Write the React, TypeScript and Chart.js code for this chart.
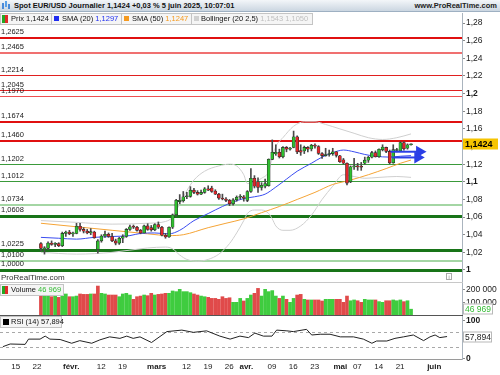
import React, { useEffect, useRef } from "react";
import { Chart, registerables } from "chart.js";
Chart.register(...registerables);

const FONT = '"Liberation Sans", Arial, sans-serif';

// ---- Daily candles (Jan 10 2025 .. Jun 5 2025), index = trading day ----
const opens = [
  1.03, 1.024, 1.0245, 1.0305, 1.029, 1.03, 1.0275, 1.0415, 1.043, 1.041,
  1.0415, 1.0495, 1.046, 1.044, 1.042, 1.043, 1.0235, 1.033, 1.0385, 1.0405,
  1.038, 1.033, 1.0305, 1.036, 1.038, 1.046, 1.049, 1.0485, 1.045, 1.042,
  1.05, 1.048, 1.0455, 1.0515, 1.0485, 1.0395, 1.0375, 1.0485, 1.0625, 1.0775,
  1.0785, 1.083, 1.0835, 1.0905, 1.088, 1.086, 1.088, 1.092, 1.093, 1.0895,
  1.086, 1.0815, 1.0805, 1.079, 1.075, 1.0795, 1.0825, 1.083, 1.079, 1.089,
  1.104, 1.1, 1.0935, 1.095, 1.0955, 1.1255, 1.1315, 1.1335, 1.1285, 1.139,
  1.137, 1.139, 1.151, 1.1355, 1.135, 1.139, 1.1372, 1.1414, 1.14, 1.132,
  1.1297, 1.131, 1.132, 1.134, 1.1295, 1.125, 1.121, 1.1, 1.117, 1.118,
  1.117, 1.121, 1.1245, 1.1278, 1.133, 1.1285, 1.1362, 1.139, 1.1345, 1.1215,
  1.1355, 1.135, 1.1445, 1.138, 1.142,
];
const highs = [
  1.031, 1.0265, 1.032, 1.033, 1.031, 1.031, 1.043, 1.044, 1.045, 1.043,
  1.053, 1.053, 1.048, 1.046, 1.047, 1.044, 1.0345, 1.04, 1.044, 1.042,
  1.0415, 1.035, 1.037, 1.04, 1.047, 1.051, 1.051, 1.0495, 1.046, 1.051,
  1.0525, 1.0505, 1.0525, 1.0545, 1.0495, 1.0415, 1.049, 1.0635, 1.08, 1.0855,
  1.089, 1.088, 1.0945, 1.0925, 1.09, 1.0905, 1.0935, 1.0955, 1.095, 1.091,
  1.087, 1.086, 1.082, 1.08, 1.081, 1.084, 1.0855, 1.0845, 1.09, 1.115,
  1.107, 1.1045, 1.099, 1.103, 1.126, 1.1475, 1.142, 1.137, 1.14, 1.14,
  1.139, 1.1575, 1.152, 1.142, 1.1405, 1.14, 1.1425, 1.143, 1.141, 1.133,
  1.138, 1.136, 1.138, 1.1345, 1.13, 1.1265, 1.1215, 1.118, 1.1265, 1.121,
  1.122, 1.128, 1.129, 1.1345, 1.135, 1.1375, 1.142, 1.1395, 1.136, 1.142,
  1.138, 1.1455, 1.1455, 1.143, 1.143,
];
const lows = [
  1.0215, 1.018, 1.023, 1.028, 1.0265, 1.0265, 1.0265, 1.038, 1.04, 1.038,
  1.041, 1.044, 1.042, 1.041, 1.04, 1.036, 1.019, 1.0315, 1.037, 1.037,
  1.032, 1.0285, 1.029, 1.031, 1.037, 1.045, 1.047, 1.044, 1.041, 1.042,
  1.045, 1.044, 1.0445, 1.047, 1.0385, 1.036, 1.037, 1.047, 1.061, 1.075,
  1.077, 1.081, 1.0825, 1.0865, 1.085, 1.0855, 1.087, 1.09, 1.088, 1.0855,
  1.08, 1.0795, 1.0775, 1.073, 1.0735, 1.078, 1.0805, 1.078, 1.0775, 1.088,
  1.093, 1.088, 1.0905, 1.093, 1.095, 1.125, 1.13, 1.127, 1.127, 1.134,
  1.136, 1.1385, 1.132, 1.13, 1.132, 1.134, 1.135, 1.138, 1.131, 1.1265,
  1.129, 1.129, 1.13, 1.128, 1.122, 1.12, 1.0965, 1.099, 1.114, 1.113,
  1.113, 1.12, 1.122, 1.127, 1.128, 1.1275, 1.135, 1.133, 1.1205, 1.121,
  1.134, 1.1345, 1.136, 1.137, 1.1415,
];
const closes = [
  1.0245, 1.0245, 1.0305, 1.029, 1.03, 1.0275, 1.0415, 1.043, 1.041, 1.0415,
  1.0495, 1.046, 1.044, 1.042, 1.0435, 1.0365, 1.033, 1.0385, 1.0405, 1.038,
  1.033, 1.0305, 1.036, 1.038, 1.046, 1.049, 1.0485, 1.045, 1.042, 1.05,
  1.046, 1.0455, 1.0515, 1.0485, 1.0395, 1.0375, 1.0485, 1.0625, 1.079, 1.079,
  1.083, 1.0835, 1.0905, 1.088, 1.086, 1.088, 1.092, 1.0905, 1.089, 1.086,
  1.0815, 1.0805, 1.079, 1.075, 1.0795, 1.0825, 1.0835, 1.0815, 1.089, 1.104,
  1.095, 1.0935, 1.096, 1.098, 1.1255, 1.1335, 1.1335, 1.1285, 1.139, 1.137,
  1.1375, 1.151, 1.134, 1.1335, 1.139, 1.137, 1.1414, 1.1405, 1.1323, 1.1297,
  1.131, 1.132, 1.134, 1.13, 1.1228, 1.121, 1.0985, 1.117, 1.118, 1.117,
  1.1165, 1.1245, 1.1278, 1.133, 1.1285, 1.1368, 1.1395, 1.1345, 1.1215, 1.1365,
  1.1365, 1.1445, 1.1375, 1.142, 1.1424,
];
const volumes = [
  148000, 156000, 148000, 143000, 148000, 138000, 151000, 164000, 143000, 143000,
  148000, 164000, 161000, 161000, 164000, 164000, 225000, 169000, 164000, 156000,
  156000, 156000, 143000, 164000, 169000, 156000, 123000, 143000, 148000, 156000,
  151000, 169000, 156000, 161000, 164000, 169000, 169000, 187000, 182000, 200000,
  182000, 182000, 174000, 164000, 156000, 148000, 143000, 138000, 130000, 130000,
  123000, 143000, 130000, 135000, 100000, 100000, 130000, 110000, 130000, 156000,
  169000, 207000, 148000, 200000, 182000, 190000, 148000, 130000, 148000, 123000,
  100000, 130000, 156000, 161000, 123000, 118000, 118000, 118000, 118000, 110000,
  123000, 123000, 123000, 123000, 123000, 100000, 148000, 112000, 118000, 112000,
  100000, 123000, 118000, 118000, 118000, 105000, 100000, 112000, 112000, 118000,
  112000, 118000, 105000, 112000, 46969,
];

// ---- Indicators (index, value) ----
const sma20X = [0, 5, 10, 15, 20, 25, 28, 32, 36, 39, 43, 47, 51, 54, 57, 60, 63, 66, 69, 72, 76, 79, 82, 85, 88, 91, 94, 98, 101, 104];
const sma20Y = [1.037, 1.036, 1.035, 1.037, 1.038, 1.039, 1.0415, 1.042, 1.041, 1.045, 1.056, 1.064, 1.072, 1.077, 1.081, 1.083, 1.086, 1.094, 1.103, 1.112, 1.121, 1.128, 1.133, 1.136, 1.134, 1.131, 1.129, 1.128, 1.129, 1.1297];
const sma50X = [0, 10, 20, 30, 36, 40, 47, 52, 57, 62, 67, 72, 77, 82, 85, 87, 92, 97, 101, 104];
const sma50Y = [1.053, 1.049, 1.045, 1.041, 1.039, 1.04, 1.048, 1.053, 1.058, 1.065, 1.072, 1.08, 1.088, 1.097, 1.1, 1.102, 1.108, 1.115, 1.121, 1.1247];
const bbUpX = [0, 10, 20, 30, 35, 37, 39, 41, 43, 46, 50, 53, 55, 57, 58, 60, 62, 64, 65, 66, 68, 71, 74, 77, 80, 84, 88, 92, 96, 100, 104];
const bbUpY = [1.056, 1.054, 1.052, 1.053, 1.055, 1.06, 1.075, 1.09, 1.102, 1.112, 1.118, 1.12, 1.118, 1.108, 1.098, 1.1, 1.104, 1.112, 1.128, 1.14, 1.15, 1.163, 1.168, 1.168, 1.165, 1.16, 1.155, 1.15, 1.148, 1.15, 1.1543];
const bbLoX = [0, 10, 20, 30, 35, 37, 39, 41, 44, 47, 50, 53, 55, 57, 58, 60, 62, 64, 65, 66, 68, 70, 73, 76, 79, 82, 85, 88, 91, 95, 100, 104];
const bbLoY = [1.02, 1.018, 1.02, 1.025, 1.026, 1.024, 1.017, 1.012, 1.01, 1.012, 1.018, 1.03, 1.042, 1.056, 1.064, 1.068, 1.068, 1.064, 1.058, 1.05, 1.045, 1.045, 1.05, 1.062, 1.08, 1.095, 1.108, 1.106, 1.104, 1.105, 1.106, 1.105];
const rsiX = [0, 1.7, 5.2, 6, 8.7, 9.9, 11, 13.4, 16.1, 18, 20.8, 22.7, 25, 27.4, 29, 30.5, 32.1, 34.8, 38.4, 41.9, 44.6, 47.7, 50.8, 53.2, 55.5, 57.5, 59, 61, 63, 64.1, 66.5, 68, 71.1, 72.3, 74.3, 76.6, 79, 82.1, 84.4, 86.4, 87.5, 89.9, 91.8, 93.8, 96.1, 98.5, 100, 101.2, 102.3, 104];
const rsiY = [31, 38, 37, 51, 51, 59, 51, 50, 40, 47, 40, 49, 57, 53, 59, 53, 57, 42, 71, 75, 69, 73, 59, 51, 59, 55, 67, 59, 59, 75, 73, 71, 77, 62, 64, 64, 57, 57, 51, 40, 46, 46, 53, 57, 62, 47, 57, 62, 55, 57.894];

// ---- Drawn arrows and horizontal levels ----
const arrowAX = [98.2, 106.4];
const arrowAY = [1.1341, 1.1341];
const arrowBX = [98.7, 105.9];
const arrowBY = [1.1276, 1.1276];
const levelValues = [1.2625, 1.2465, 1.2214, 1.2045, 1.197, 1.1674, 1.146, 1.1202, 1.1012, 1.0734, 1.0608, 1.0225, 1.01, 1.0];
const levelLabels = ["1,2625", "1,2465", "1,2214", "1,2045", "1,1970", "1,1674", "1,1460", "1,1202", "1,1012", "1,0734", "1,0608", "1,0225", "1,0100", "1,0000"];
const levelColors = ["#e01010", "#f07070", "#e02020", "#e02020", "#ee5050", "#e01010", "#e01010", "#3a9a3a", "#3a9a3a", "#a4d6a4", "#187418", "#187418", "#a4d6a4", "#187418"];
const levelWidths = [2, 2, 1, 1, 1, 2, 2, 1, 1, 2, 3, 3, 2, 3];

// ---- Axes ----
const priceTicks = [1.0, 1.02, 1.04, 1.06, 1.08, 1.1, 1.12, 1.14, 1.16, 1.18, 1.2, 1.22, 1.24, 1.26, 1.28];
const volumeTicks = [100000, 200000];
const rsiTicks = [0, 100];
const rsiBands = [70, 30];
const dateTickIdx = [3, 8, 16, 23, 28, 36, 43, 48, 53, 57, 63, 68, 73, 79, 83, 88, 93, 101];
const dateTickLabels = ["15", "22", "févr.", "12", "19", "mars", "12", "19", "26", "avr.", "09", "16", "23", "mai", "07", "14", "21", "juin"];
const lastPrice = 1.1424;
const lastVolume = 46969;
const lastRsi = 57.894;

const X_MIN = -0.68;
const X_MAX = 107.5;
const AXIS_W = 38;

const fmtPrice = (v: number) => parseFloat(v.toFixed(2)).toString().replace(".", ",");
const isTenth = (v: number) => Math.abs(Math.round(v * 10) - v * 10) < 1e-6;
const pts = (xs: number[], ys: number[]) => xs.map((x, i) => ({ x, y: ys[i] }));

const GREEN = "#2fbf2f";
const RED = "#e2262a";

function rightAxis(extra: any) {
  return {
    type: "linear",
    position: "right",
    afterFit: (s: any) => {
      s.width = AXIS_W;
      s.paddingTop = 0;
      s.paddingBottom = 0;
    },
    grid: { drawOnChartArea: false, drawTicks: true, tickLength: 3, color: "#8a8a8a" },
    border: { display: true, color: "#aab4be" },
    ...extra,
  };
}

const hiddenX = {
  type: "linear",
  min: X_MIN,
  max: X_MAX,
  display: false,
};

const levelsPlugin = {
  id: "levels",
  beforeDatasetsDraw(chart: any) {
    const { ctx, chartArea, scales } = chart;
    const y = scales.y;
    ctx.save();
    levelValues.forEach((v, k) => {
      const py = y.getPixelForValue(v);
      const w = levelWidths[k];
      ctx.strokeStyle = levelColors[k];
      ctx.lineWidth = w;
      const yy = w % 2 === 1 ? Math.round(py) + 0.5 : Math.round(py);
      ctx.beginPath();
      ctx.moveTo(chartArea.left, yy);
      ctx.lineTo(chartArea.right, yy);
      ctx.stroke();
      ctx.fillStyle = "#1a1a1a";
      ctx.font = `7.5px ${FONT}`;
      ctx.textBaseline = "bottom";
      ctx.textAlign = "left";
      ctx.fillText(levelLabels[k], chartArea.left + 1, yy - w / 2 - 1.5);
    });
    ctx.restore();
  },
};

function tagPlugin(id: string, value: number, text: string, opts: any) {
  return {
    id,
    afterDraw(chart: any) {
      const { ctx, chartArea, scales } = chart;
      const py = Math.round(scales.y.getPixelForValue(value));
      const x0 = chartArea.right + 1;
      const h = opts.h;
      ctx.save();
      ctx.fillStyle = opts.bg;
      ctx.fillRect(x0, py - h / 2, opts.w, h);
      if (opts.border) {
        ctx.strokeStyle = opts.border;
        ctx.lineWidth = 1;
        ctx.strokeRect(x0 + 0.5, py - h / 2 + 0.5, opts.w - 1, h - 1);
      }
      ctx.fillStyle = opts.color;
      ctx.font = opts.font;
      ctx.textBaseline = "middle";
      ctx.textAlign = "left";
      ctx.fillText(text, x0 + 2, py + 0.5);
      ctx.restore();
    },
  };
}

const rsiBandsPlugin = {
  id: "rsiBands",
  beforeDatasetsDraw(chart: any) {
    const { ctx, chartArea, scales } = chart;
    ctx.save();
    ctx.strokeStyle = "#a8a8a8";
    ctx.lineWidth = 1;
    ctx.setLineDash([3, 3]);
    rsiBands.forEach((v) => {
      const py = Math.round(scales.y.getPixelForValue(v)) + 0.5;
      ctx.beginPath();
      ctx.moveTo(chartArea.left, py);
      ctx.lineTo(chartArea.right, py);
      ctx.stroke();
    });
    ctx.restore();
  },
};

const baseOpts = {
  responsive: false,
  maintainAspectRatio: false,
  animation: false,
  devicePixelRatio: 1,
  layout: { padding: 0, autoPadding: false },
  plugins: { legend: { display: false }, tooltip: { enabled: false } },
};

export default function App() {
  const mainRef = useRef<HTMLCanvasElement>(null);
  const volRef = useRef<HTMLCanvasElement>(null);
  const rsiRef = useRef<HTMLCanvasElement>(null);

  useEffect(() => {
    const up = closes.map((c, i) => c >= opens[i]);
    const volUp = closes.map((c, i) => (i === 0 ? c >= opens[0] : c >= closes[i - 1]));

    const main = new Chart(mainRef.current as HTMLCanvasElement, {
      type: "bar",
      data: {
        datasets: [
          {
            type: "line",
            data: pts(arrowAX, arrowAY),
            borderColor: "#2b3fe6",
            backgroundColor: "#2b3fe6",
            borderWidth: 2,
            pointRadius: [0, 5],
            pointStyle: "triangle",
            rotation: 90,
            order: 0,
          },
          {
            type: "line",
            data: pts(arrowBX, arrowBY),
            borderColor: "#2b3fe6",
            backgroundColor: "#2b3fe6",
            borderWidth: 2,
            pointRadius: [0, 5],
            pointStyle: "triangle",
            rotation: 90,
            order: 0,
          },
          {
            type: "bar",
            data: opens.map((o, i) => ({ x: i, y: [o, closes[i]] })),
            backgroundColor: up.map((u) => (u ? GREEN : RED)),
            borderColor: "#2a2a2a",
            borderWidth: 0.6,
            borderSkipped: false,
            barThickness: 3,
            minBarLength: 1,
            grouped: false,
            order: 1,
          },
          {
            type: "bar",
            data: lows.map((l, i) => ({ x: i, y: [l, highs[i]] })),
            backgroundColor: "#4a4a4a",
            barThickness: 1,
            grouped: false,
            order: 2,
          },
          {
            type: "line",
            data: pts(sma20X, sma20Y),
            borderColor: "#3a4cf0",
            borderWidth: 1,
            pointRadius: 0,
            cubicInterpolationMode: "monotone",
            order: 3,
          },
          {
            type: "line",
            data: pts(sma50X, sma50Y),
            borderColor: "#f5a436",
            borderWidth: 1,
            pointRadius: 0,
            cubicInterpolationMode: "monotone",
            order: 3,
          },
          {
            type: "line",
            data: pts(bbUpX, bbUpY),
            borderColor: "#cfcfcf",
            borderWidth: 1,
            pointRadius: 0,
            cubicInterpolationMode: "monotone",
            order: 4,
          },
          {
            type: "line",
            data: pts(bbLoX, bbLoY),
            borderColor: "#cfcfcf",
            borderWidth: 1,
            pointRadius: 0,
            cubicInterpolationMode: "monotone",
            order: 4,
          },
        ],
      },
      options: {
        ...baseOpts,
        scales: {
          x: hiddenX,
          y: rightAxis({
            min: 0.98526,
            max: 1.29138,
            afterBuildTicks: (s: any) => {
              s.ticks = priceTicks.map((v) => ({ value: v }));
            },
            ticks: {
              padding: 1,
              color: "#1a1a1a",
              callback: (v: any) => fmtPrice(Number(v)),
              font: (c: any) => ({ family: FONT, size: 8.5, weight: c.tick && isTenth(c.tick.value) ? "bold" : "normal" }),
            },
          }),
        },
      } as any,
      plugins: [
        levelsPlugin,
        tagPlugin("priceTag", lastPrice, "1,1424", { w: 35, h: 11, bg: "#f6c400", color: "#000", font: `bold 9px ${FONT}` }),
      ],
    } as any);

    const vol = new Chart(volRef.current as HTMLCanvasElement, {
      type: "bar",
      data: {
        datasets: [
          {
            data: volumes.map((v, i) => ({ x: i, y: v })),
            backgroundColor: volUp.map((u) => (u ? "#3fcc3f" : "#e04a4a")),
            barThickness: 3,
          },
        ],
      },
      options: {
        ...baseOpts,
        scales: {
          x: hiddenX,
          y: rightAxis({
            min: -5385,
            max: 248462,
            afterBuildTicks: (s: any) => {
              s.ticks = volumeTicks.map((v) => ({ value: v }));
            },
            ticks: {
              padding: 1,
              color: "#1a1a1a",
              callback: (v: any) => Number(v).toLocaleString("fr-FR").replace(/\s/g, " "),
              font: { family: FONT, size: 8.5 },
            },
          }),
        },
      } as any,
      plugins: [
        tagPlugin("volTag", lastVolume, "46 969", { w: 30, h: 11, bg: "#fff", border: "#b8b8b8", color: "#33bb33", font: `8.5px ${FONT}` }),
      ],
    } as any);

    const rsi = new Chart(rsiRef.current as HTMLCanvasElement, {
      type: "line",
      data: {
        datasets: [
          {
            data: pts(rsiX, rsiY),
            borderColor: "#222",
            borderWidth: 1,
            pointRadius: 0,
            tension: 0,
          },
        ],
      },
      options: {
        ...baseOpts,
        scales: {
          x: {
            type: "linear",
            min: X_MIN,
            max: X_MAX,
            afterBuildTicks: (s: any) => {
              s.ticks = dateTickIdx.map((v) => ({ value: v }));
            },
            afterFit: (s: any) => {
              s.height = 16;
              s.paddingLeft = 0;
              s.paddingRight = 0;
            },
            grid: { display: false, drawTicks: false },
            border: { display: true, color: "#9a9a9a" },
            ticks: {
              autoSkip: false,
              maxRotation: 0,
              padding: 3,
              color: "#1a1a1a",
              callback: (v: any, i: number) => dateTickLabels[i],
              font: (c: any) => ({ family: FONT, size: 8, weight: /[a-z]/.test(dateTickLabels[c.index] || "") ? "bold" : "normal" }),
            },
          },
          y: rightAxis({
            min: -1.86,
            max: 112.5,
            afterBuildTicks: (s: any) => {
              s.ticks = rsiTicks.map((v) => ({ value: v }));
            },
            ticks: {
              padding: 1,
              color: "#1a1a1a",
              callback: (v: any) => String(v),
              font: { family: FONT, size: 8.5, weight: "bold" },
            },
          }),
        },
      } as any,
      plugins: [
        rsiBandsPlugin,
        tagPlugin("rsiTag", lastRsi, "57,894", { w: 29, h: 11, bg: "#fff", border: "#b8b8b8", color: "#222", font: `8.5px ${FONT}` }),
      ],
    } as any);

    return () => {
      main.destroy();
      vol.destroy();
      rsi.destroy();
    };
  }, []);

  const abs = (o: any) => ({ position: "absolute", ...o });
  const legendBox = {
    position: "absolute",
    background: "rgba(244,244,244,0.95)",
    border: "1px solid #c4c4c4",
    boxSizing: "border-box",
    fontSize: "7.5px",
    lineHeight: "10px",
    color: "#111",
    whiteSpace: "nowrap",
  } as any;
  const sq = (color: string, left: number) => (
    <span style={abs({ left, top: 2, width: 5, height: 5, background: color })} />
  );

  return (
    <div style={{ position: "fixed", left: 0, top: 0, width: 500, height: 375, background: "#fff", overflow: "hidden", fontFamily: FONT }}>
      {/* header */}
      <div style={abs({ left: 0, top: 0, width: 500, height: 12, background: "linear-gradient(#f3f6f9, #cbd6e1)", borderBottom: "1px solid #9eb0c2", boxSizing: "border-box" })}>
        <span style={abs({ left: 2, top: 3, width: 2, height: 6, background: "#4a8ad8" })} />
        <span style={abs({ left: 5, top: 1, width: 2, height: 6, background: "#5aa0e8" })} />
        <span style={abs({ left: 8, top: 4, width: 2, height: 5, background: "#4a8ad8" })} />
        <span style={abs({ left: 14, top: 0, fontSize: "7.5px", lineHeight: "12px", fontWeight: "bold", color: "#111", whiteSpace: "nowrap" })}>
          Spot EUR/USD Journalier 1,1424 +0,03 % 5 juin 2025, 10:07:01
        </span>
        <span style={abs({ right: 3, top: 0, fontSize: "7.5px", lineHeight: "12px", fontWeight: "bold", color: "#222", whiteSpace: "nowrap" })}>
          www.ProRealTime.com
        </span>
      </div>

      <canvas ref={mainRef} width={500} height={270} style={abs({ left: 0, top: 13, width: 500, height: 270 })} />
      <canvas ref={volRef} width={500} height={33} style={abs({ left: 0, top: 283, width: 500, height: 33 })} />
      <canvas ref={rsiRef} width={500} height={59} style={abs({ left: 0, top: 316, width: 500, height: 59 })} />

      {/* main legend */}
      <div style={{ ...legendBox, left: 0, top: 13, width: 313, height: 12 }}>
        <span style={abs({ left: 1, top: 1, width: 3, height: 8, background: "#23a823" })} />
        <span style={abs({ left: 4, top: 1, width: 3, height: 8, background: "#e02a2a" })} />
        <span style={abs({ left: 10, top: 0 })}>Prix 1,1424</span>
        <span style={abs({ left: 50, top: 0, width: 1, height: 10, background: "#c4c4c4" })} />
        {sq("#1f2cf0", 53)}
        <span style={abs({ left: 61, top: 0 })}>
          SMA (20) <span style={{ color: "#2030f0" }}>1,1297</span>
        </span>
        <span style={abs({ left: 120, top: 0, width: 1, height: 10, background: "#c4c4c4" })} />
        {sq("#f59a20", 123)}
        <span style={abs({ left: 131, top: 0 })}>
          SMA (50) <span style={{ color: "#f59a20" }}>1,1247</span>
        </span>
        <span style={abs({ left: 190, top: 0, width: 1, height: 10, background: "#c4c4c4" })} />
        {sq("#d0d0d0", 193)}
        <span style={abs({ left: 200, top: 0 })}>
          Bollinger (20 2,5) <span style={{ color: "#c0c0c0" }}>1,1543 1,1050</span>
        </span>
      </div>

      {/* watermark + info */}
      <span style={abs({ left: 1, top: 273, fontSize: "8px", lineHeight: "10px", color: "#333" })}>ProRealTime.com</span>
      <span style={abs({ left: 446, top: 273, width: 6, height: 7, border: "1px solid #aaa", fontSize: "5px", lineHeight: "7px", textAlign: "center", color: "#777", boxSizing: "border-box" })}>i</span>

      {/* panel separators */}
      <div style={abs({ left: 0, top: 282, width: 463, height: 1, background: "#c8c8c8" })} />
      <div style={abs({ left: 0, top: 315, width: 463, height: 1, background: "#555" })} />

      {/* volume legend */}
      <div style={{ ...legendBox, left: 0, top: 284, width: 64, height: 12 }}>
        <span style={abs({ left: 1, top: 1, width: 3, height: 8, background: "#23a823" })} />
        <span style={abs({ left: 4, top: 1, width: 3, height: 8, background: "#e02a2a" })} />
        <span style={abs({ left: 10, top: 0 })}>
          Volume <span style={{ color: "#33bb33" }}>46 969</span>
        </span>
      </div>

      {/* rsi legend */}
      <div style={{ ...legendBox, left: 0, top: 316, width: 62, height: 12 }}>
        <span style={abs({ left: 2, top: 2, width: 6, height: 6, background: "#000" })} />
        <span style={abs({ left: 10, top: 0 })}>RSI (14) 57,894</span>
      </div>
    </div>
  );
}
